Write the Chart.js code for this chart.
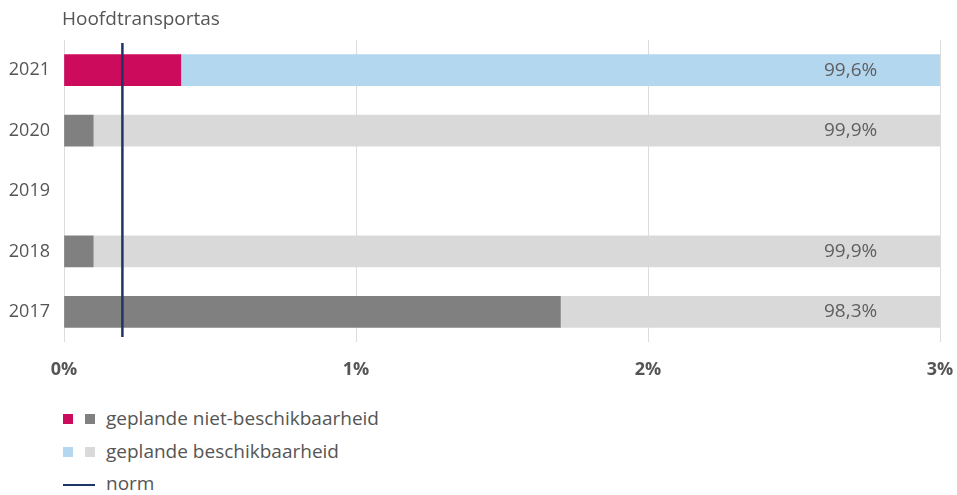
<!DOCTYPE html>
<html>
<head>
<meta charset="utf-8">
<script src="https://cdn.jsdelivr.net/npm/chart.js@4.4.1/dist/chart.umd.min.js"></script>
<style>
  html, body { margin: 0; padding: 0; background: #fff; }
  body { width: 957px; height: 495px; position: relative; overflow: hidden; font-family: "Open Sans", "Noto Sans", sans-serif; color: #5a5a5a; }
  #wrap { position: absolute; left: 0; top: 0; width: 957px; height: 395px; }
  #title { position: absolute; left: 62px; top: 5px; font-size: 19px; color: #555; }
  .leg { position: absolute; left: 63px; font-size: 19px; color: #555; height: 22px; line-height: 22px; }
  .sq { position: absolute; top: 6px; width: 10px; height: 10px; }
  .ln { position: absolute; top: 11px; left: 0; width: 32px; height: 2px; }
  .lt { position: absolute; left: 43px; top: -1px; white-space: nowrap; }
</style>
</head>
<body>
<div id="wrap"><canvas id="c"></canvas></div>
<div id="title">Hoofdtransportas</div>
<div class="leg" style="top:408px"><span class="sq" style="left:0;background:#cc0b5c"></span><span class="sq" style="left:22px;background:#808080"></span><span class="lt">geplande niet-beschikbaarheid</span></div>
<div class="leg" style="top:441px"><span class="sq" style="left:0;background:#b3d7ef"></span><span class="sq" style="left:22px;background:#d9d9d9"></span><span class="lt">geplande beschikbaarheid</span></div>
<div class="leg" style="top:473px"><span class="ln" style="background:#1f3565"></span><span class="lt">norm</span></div>
<script>
const categories = ['2021', '2020', '2019', '2018', '2017'];
const nietBeschikbaar = [0.4, 0.1, null, 0.1, 1.7];
const beschikbaar = [99.6, 99.9, null, 99.9, 98.3];
const beschikbaarLabels = ['99,6%', '99,9%', '', '99,9%', '98,3%'];
const normValue = 0.2;
const xTicks = [0, 1, 2, 3];

const highlightIndex = 0;
const darkColors = categories.map((c, i) => i === highlightIndex ? '#cc0b5c' : '#808080');
const lightColors = categories.map((c, i) => i === highlightIndex ? '#b3d7ef' : '#d9d9d9');
const FONT = '"Open Sans", "Noto Sans", sans-serif';

const overlay = {
  id: 'overlay',
  afterDatasetsDraw(chart) {
    const ctx = chart.ctx;
    const xs = chart.scales.x;
    const area = chart.chartArea;
    ctx.save();
    ctx.font = '19px ' + FONT;
    ctx.fillStyle = '#5f5f5f';
    ctx.textAlign = 'right';
    ctx.textBaseline = 'middle';
    const meta = chart.getDatasetMeta(1);
    meta.data.forEach((bar, i) => {
      if (beschikbaar[i] == null) return;
      ctx.fillText(beschikbaarLabels[i], xs.getPixelForValue(2.785), bar.y);
    });
    ctx.restore();
    const nx = xs.getPixelForValue(normValue);
    ctx.save();
    ctx.strokeStyle = '#1f3565';
    ctx.lineWidth = 2.5;
    ctx.beginPath();
    ctx.moveTo(nx, area.top + 3);
    ctx.lineTo(nx, area.bottom - 5);
    ctx.stroke();
    ctx.restore();
  }
};

new Chart(document.getElementById('c'), {
  type: 'bar',
  data: {
    labels: categories,
    datasets: [
      { label: 'geplande niet-beschikbaarheid', data: nietBeschikbaar, backgroundColor: darkColors, barThickness: 31 },
      { label: 'geplande beschikbaarheid', data: beschikbaar, backgroundColor: lightColors, barThickness: 31 }
    ]
  },
  options: {
    indexAxis: 'y',
    responsive: true,
    maintainAspectRatio: false,
    animation: false,
    layout: { padding: { top: 40, left: 0, right: 17, bottom: 0 } },
    plugins: { legend: { display: false }, tooltip: { enabled: false } },
    scales: {
      x: {
        stacked: true,
        min: 0, max: 3,
        afterBuildTicks(axis) { axis.ticks = xTicks.map(v => ({ value: v })); },
        afterFit(axis) { axis.height = 53; axis.paddingLeft = 0; axis.paddingRight = 0; },
        grid: { color: '#dcdcdc', drawTicks: false, lineWidth: 1 },
        border: { display: false },
        ticks: {
          padding: 17,
          color: '#555',
          font: { family: FONT, size: 18, weight: 'bold' },
          callback: v => v + '%'
        }
      },
      y: {
        stacked: true,
        afterFit(axis) { axis.width = 64; },
        grid: { display: false, drawTicks: false },
        border: { display: false },
        ticks: {
          padding: 14,
          color: '#555',
          font: { family: FONT, size: 18 }
        }
      }
    }
  },
  plugins: [overlay]
});
</script>
</body>
</html>
